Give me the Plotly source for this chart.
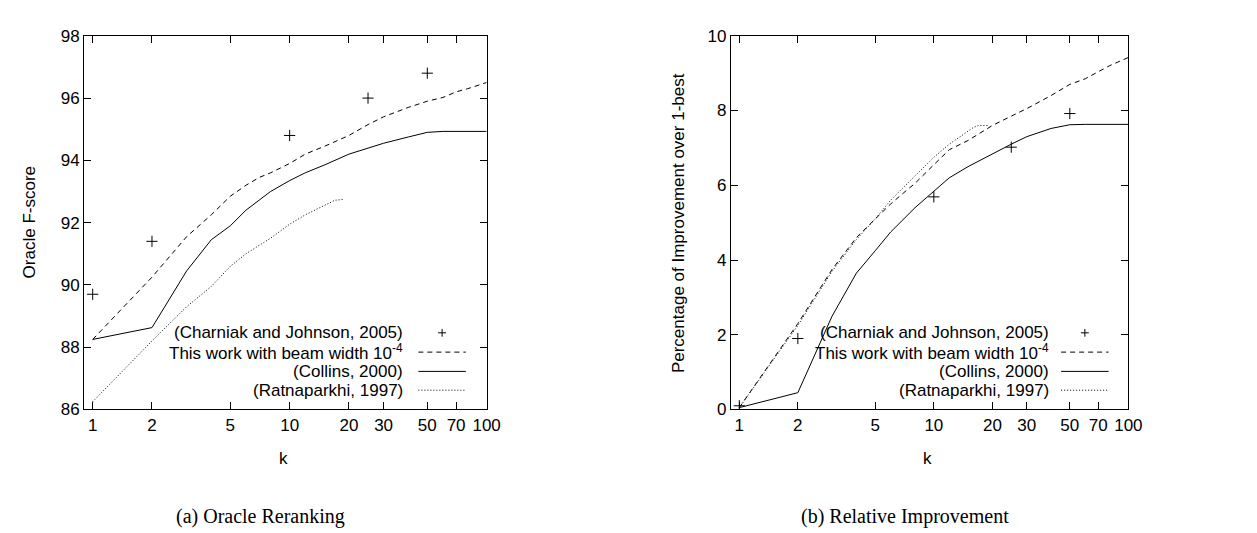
import plotly.graph_objects as go
import numpy as np

# ---------------- data ----------------
# (a) Oracle Reranking : Oracle F-score vs k
ck_k = [1, 2, 10, 25, 50]
ck_f = [89.7, 91.4, 94.8, 96.0, 96.8]

this_k = [1, 2, 3, 4, 5, 6, 7, 8, 10, 12, 15, 20, 25, 30, 40, 50, 60, 70, 80, 100]
this_f = [88.25, 90.25, 91.55, 92.25, 92.85, 93.2, 93.45, 93.6, 93.9, 94.2, 94.45,
          94.8, 95.15, 95.4, 95.7, 95.9, 96.02, 96.2, 96.3, 96.5]

col_k = [1, 2, 3, 4, 5, 6, 8, 10, 12, 15, 20, 25, 30, 40, 50, 60, 100]
col_f = [88.25, 88.63, 90.45, 91.45, 91.9, 92.4, 93.0, 93.35, 93.6, 93.85, 94.2,
         94.4, 94.55, 94.75, 94.9, 94.93, 94.93]

rat_k = [1, 2, 3, 4, 5, 6, 8, 10, 12, 15, 17, 19]
rat_f = [86.25, 88.2, 89.3, 89.95, 90.6, 91.0, 91.5, 91.95, 92.25, 92.55, 92.72, 92.75]

# (b) Relative Improvement : percentage over 1-best vs k
ck_r = [0.1, 1.9, 5.69, 7.02, 7.92]
this_r = [0.05, 2.3, 3.75, 4.6, 5.1, 5.5, 5.8, 6.05, 6.55, 6.95, 7.2, 7.6, 7.85,
          8.05, 8.4, 8.7, 8.85, 9.05, 9.2, 9.42]
col_r = [0.05, 0.45, 2.5, 3.65, 4.25, 4.75, 5.4, 5.85, 6.2, 6.5, 6.85, 7.1, 7.3,
         7.52, 7.62, 7.63, 7.63]
rat_kr = [1, 2, 3, 4, 5, 6, 7, 8, 10, 12, 14, 16, 17, 19]
rat_r = [0.05, 2.25, 3.7, 4.55, 5.1, 5.6, 5.95, 6.25, 6.75, 7.1, 7.35, 7.55, 7.6, 7.6]

x_ticks = [1, 2, 5, 10, 20, 30, 50, 70, 100]
legend_labels = ["(Charniak and Johnson, 2005)",
                 "This work with beam width 10<sup>-4</sup>",
                 "(Collins, 2000)",
                 "(Ratnaparkhi, 1997)"]

# ---------------- layout helpers ----------------
W, H = 1257, 533
def px(x):
    return x / W
def py(y):
    return 1 - y / H

SANS = "Liberation Sans, Arial, Helvetica, sans-serif"
SERIF = "Liberation Serif, Times New Roman, serif"
FS = 17

fig = go.Figure()

dash_style = "5px,4px"
dot_style = "1px,2px"

def add_panel(xa, ya, ck_y, this_y, col_y, rat_x, rat_y):
    fig.add_trace(go.Scatter(x=ck_k, y=ck_y, mode="markers", xaxis=xa, yaxis=ya,
                             marker=dict(symbol="cross-thin", size=8, color="black",
                                         line=dict(width=1, color="black")),
                             showlegend=False))
    fig.add_trace(go.Scatter(x=this_k, y=this_y, mode="lines", xaxis=xa, yaxis=ya,
                             line=dict(color="black", width=1, dash=dash_style),
                             showlegend=False))
    fig.add_trace(go.Scatter(x=col_k, y=col_y, mode="lines", xaxis=xa, yaxis=ya,
                             line=dict(color="black", width=1),
                             showlegend=False))
    fig.add_trace(go.Scatter(x=rat_x, y=rat_y, mode="lines", xaxis=xa, yaxis=ya,
                             line=dict(color="black", width=1, dash=dot_style),
                             showlegend=False))

add_panel("x", "y", ck_f, this_f, col_f, rat_k, rat_f)
add_panel("x2", "y2", ck_r, this_r, col_r, rat_kr, rat_r)

# plot frame positions (pixels)
L1, R1 = 77, 484
L2, R2 = 731, 1133
T, B = 19.5, 407

xrange = [np.log10(0.905), 2.0]
common_x = dict(type="log", range=xrange, tickvals=x_ticks, ticktext=[str(v) for v in x_ticks],
                ticks="inside", ticklen=7, tickwidth=1, tickcolor="black",
                showline=True, linecolor="black", linewidth=1, mirror="ticks",
                showgrid=False, zeroline=False,
                tickfont=dict(family=SANS, size=FS, color="black"))
common_y = dict(ticks="inside", ticklen=7, tickwidth=1, tickcolor="black",
                showline=True, linecolor="black", linewidth=1, mirror="ticks",
                showgrid=False, zeroline=False,
                tickfont=dict(family=SANS, size=FS, color="black"))

fig.update_layout(
    width=W, height=H,
    margin=dict(l=0, r=0, t=0, b=0),
    paper_bgcolor="white", plot_bgcolor="white",
    showlegend=False,
    xaxis=dict(domain=[px(L1), px(R1)], anchor="y", **common_x),
    yaxis=dict(domain=[py(B), py(T)], anchor="x", range=[86, 98],
               tickvals=[86, 88, 90, 92, 94, 96, 98], **common_y),
    xaxis2=dict(domain=[px(L2), px(R2)], anchor="y2", **common_x),
    yaxis2=dict(domain=[py(B), py(T)], anchor="x2", range=[0, 10],
                tickvals=[0, 2, 4, 6, 8, 10], **common_y),
)

annotations = []
shapes = []

def text_ann(x, y, text, size=FS, family=SANS, xanchor="center", yanchor="middle", angle=0):
    annotations.append(dict(x=px(x), y=py(y), xref="paper", yref="paper", text=text,
                            showarrow=False, xanchor=xanchor, yanchor=yanchor,
                            textangle=angle, font=dict(family=family, size=size, color="black")))

# axis titles
text_ann(279, 458, "k")
text_ann(930, 458, "k")
text_ann(22, (T + B) / 2, "Oracle F-score", angle=-90)
text_ann(678, (T + B) / 2, "Percentage of Improvement over 1-best", angle=-90)

# captions
text_ann(255, 518, "(a) Oracle Reranking", size=20, family=SERIF)
text_ann(907, 518, "(b) Relative Improvement", size=20, family=SERIF)

# manual legends (gnuplot style: text right-aligned, sample at right)
leg_y = [327.5, 347.5, 367.5, 387.0]
def add_legend(text_right, s0, s1):
    for i, lab in enumerate(legend_labels):
        text_ann(text_right, leg_y[i], lab, xanchor="right")
    # sample 0: plus marker
    cx = (s0 + s1) / 2
    cy = leg_y[0]
    shapes.append(dict(type="line", xref="paper", yref="paper",
                       x0=px(cx - 4), x1=px(cx + 4), y0=py(cy), y1=py(cy),
                       line=dict(color="black", width=1)))
    shapes.append(dict(type="line", xref="paper", yref="paper",
                       x0=px(cx), x1=px(cx), y0=py(cy - 4), y1=py(cy + 4),
                       line=dict(color="black", width=1)))
    for i, d in [(1, dash_style), (2, "solid"), (3, dot_style)]:
        shapes.append(dict(type="line", xref="paper", yref="paper",
                           x0=px(s0), x1=px(s1), y0=py(leg_y[i]), y1=py(leg_y[i]),
                           line=dict(color="black", width=1, dash=d)))

add_legend(401, 415, 463)
add_legend(1055, 1065, 1113)

fig.update_layout(annotations=annotations, shapes=shapes)
fig.write_html("out.html")
